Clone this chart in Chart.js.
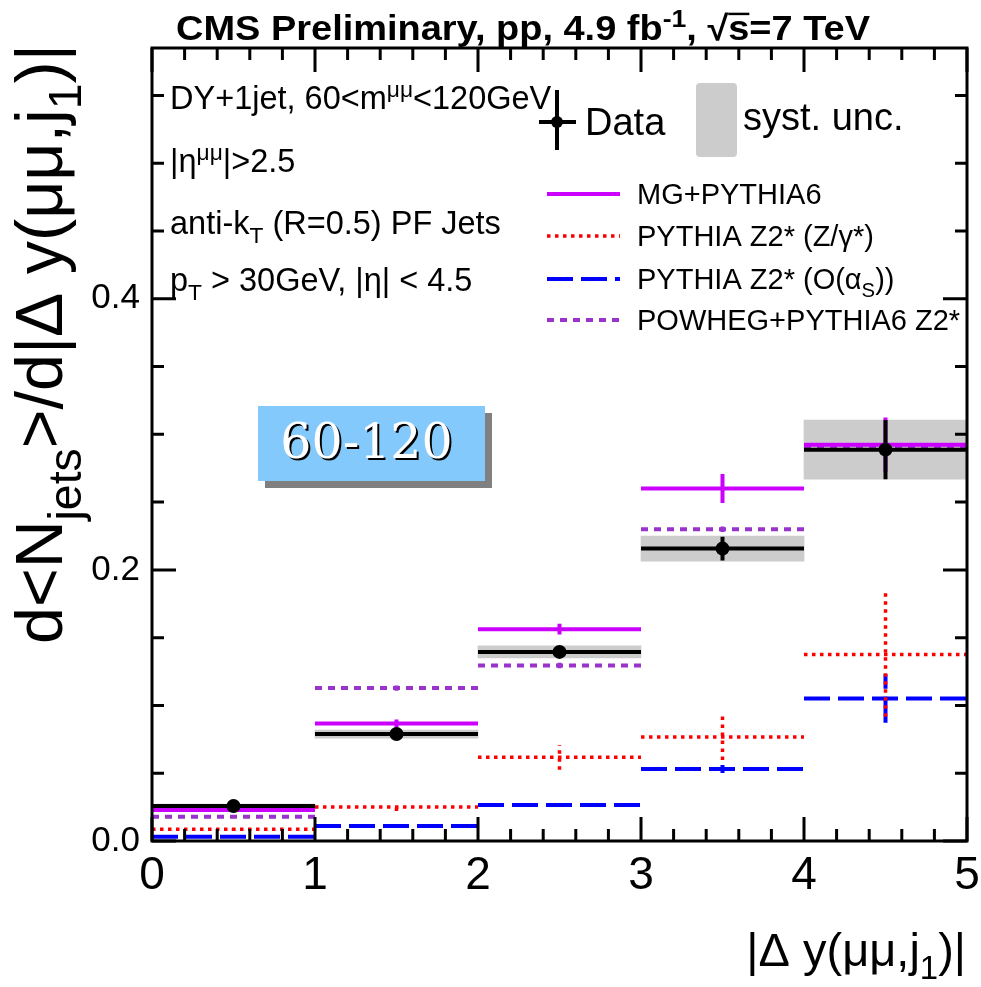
<!DOCTYPE html>
<html>
<head>
<meta charset="utf-8">
<script src="https://cdn.jsdelivr.net/npm/chart.js@4.4.0/dist/chart.umd.min.js"></script>
<style>html,body{margin:0;padding:0;background:#fff}</style>
</head>
<body>
<canvas id="c" width="981" height="987"></canvas>
<script>
// --- data ---
const binEdges = [0, 1, 2, 3, 4, 5];
const dataVals = [0.0258, 0.0789, 0.1395, 0.2157, 0.2887];
const dataStat = [0.0015, 0.003, 0.003, 0.0088, 0.0218];
const dataSyst = [0.0015, 0.003, 0.0045, 0.0092, 0.0218];
const mgVals = [0.0228, 0.0867, 0.1563, 0.2600, 0.2924];
const mgErr = [0.001, 0.003, 0.004, 0.0107, 0.020];
const pyZVals = [0.0086, 0.0251, 0.0617, 0.0767, 0.1376];
const pyZErr = [0.001, 0.003, 0.0092, 0.017, 0.046];
const pyAsVals = [0.0032, 0.0111, 0.0265, 0.0531, 0.1052];
const pyAsErr = [0.001, 0.001, 0.001, 0.003, 0.018];
const powVals = [0.0179, 0.1128, 0.1295, 0.2300, 0.2911];
const powErr = [0.001, 0.002, 0.002, 0.002, 0.002];
const xTicks = [0, 1, 2, 3, 4, 5];
const yTicks = [0.0, 0.2, 0.4];

const FONT = "'Liberation Sans', Arial, sans-serif";

// horizontal bin segments, broken between bins
function steps(vals) {
    const pts = [];
    vals.forEach((v, i) => {
        pts.push({ x: binEdges[i], y: v }, { x: binEdges[i + 1], y: v }, { x: binEdges[i + 1], y: null });
    });
    return pts;
}
// vertical error bars at bin centres
function errBars(vals, errs) {
    const pts = [];
    vals.forEach((v, i) => {
        const c = (binEdges[i] + binEdges[i + 1]) / 2;
        pts.push({ x: c, y: v - errs[i] }, { x: c, y: v + errs[i] }, { x: c, y: null });
    });
    return pts;
}
const centres = dataVals.map((v, i) => (binEdges[i] + binEdges[i + 1]) / 2);

function lineSet(data, color, width, dash, order) {
    return { type: 'line', data: data, borderColor: color, borderWidth: width, borderDash: dash,
        pointRadius: 0, spanGaps: false, fill: false, tension: 0, order: order, borderCapStyle: 'butt' };
}

const styles = {
    mg: ['#cc00ff', 4, []],
    pyZ: ['#ff0000', 3.5, [3.5, 4.5]],
    pyAs: ['#0000ff', 4, [26, 8]],
    pow: ['#9933cc', 4, [7, 6]],
    data: ['#000000', 4, []]
};

const datasets = [
    { type: 'bar', data: centres.map((c, i) => ({ x: c, y: [dataVals[i] - dataSyst[i], dataVals[i] + dataSyst[i]] })),
      backgroundColor: '#cccccc', borderWidth: 0, barPercentage: 1, categoryPercentage: 1, grouped: false, order: 20 },
    lineSet(steps(pyAsVals), ...styles.pyAs, 9),
    lineSet(errBars(pyAsVals, pyAsErr), ...styles.pyAs, 9),
    lineSet(steps(pyZVals), ...styles.pyZ, 8),
    lineSet(errBars(pyZVals, pyZErr), ...styles.pyZ, 8),
    lineSet(steps(powVals), ...styles.pow, 7),
    lineSet(errBars(powVals, powErr), ...styles.pow, 7),
    lineSet(steps(mgVals), ...styles.mg, 6),
    lineSet(errBars(mgVals, mgErr), ...styles.mg, 6),
    lineSet(steps(dataVals), ...styles.data, 2),
    lineSet(errBars(dataVals, dataStat), ...styles.data, 2),
    { type: 'line', data: centres.map((c, i) => ({ x: c, y: dataVals[i] })), showLine: false,
      pointRadius: 7, pointBackgroundColor: '#000', pointBorderWidth: 0, order: 1 }
];

// draw text with sub/superscripts: parts = [[text, kind]], kind 0 normal, 1 sub, 2 sup, 3 overline
function richWidth(ctx, parts, size, weight) {
    let w = 0;
    parts.forEach(([t, k]) => {
        const s = (k === 1 || k === 2) ? size * 0.7 : size;
        ctx.font = `${weight || ''} ${s}px ${FONT}`;
        w += ctx.measureText(t).width;
    });
    return w;
}
function drawRich(ctx, parts, x, y, size, weight) {
    let cx = x;
    parts.forEach(([t, k]) => {
        const s = (k === 1 || k === 2) ? size * 0.7 : size;
        ctx.font = `${weight || ''} ${s}px ${FONT}`;
        let dy = 0;
        if (k === 1) dy = size * 0.28;
        if (k === 2) dy = -size * 0.38;
        ctx.fillText(t, cx, y + dy);
        const w = ctx.measureText(t).width;
        if (k === 3) {
            ctx.fillRect(cx, y - size * 0.78, w, size * 0.07);
        }
        cx += w;
    });
}

const framePlugin = {
    id: 'frame',
    afterDatasetsDraw(chart) {
        const ctx = chart.ctx, a = chart.chartArea;
        const xs = chart.scales.x, ys = chart.scales.y;
        ctx.save();
        ctx.strokeStyle = '#000';
        ctx.lineWidth = 3;
        ctx.strokeRect(a.left, a.top, a.right - a.left, a.bottom - a.top);
        ctx.beginPath();
        for (let i = 0; i <= 25; i++) {
            const v = i * 0.2;
            const px = xs.getPixelForValue(v);
            const len = (i % 5 === 0) ? 24 : 12;
            ctx.moveTo(px, a.bottom); ctx.lineTo(px, a.bottom - len);
            ctx.moveTo(px, a.top); ctx.lineTo(px, a.top + len);
        }
        for (let i = 0; i * 0.05 <= ys.max + 1e-9; i++) {
            const py = ys.getPixelForValue(i * 0.05);
            const len = (i % 4 === 0) ? 24 : 12;
            ctx.moveTo(a.left, py); ctx.lineTo(a.left + len, py);
            ctx.moveTo(a.right, py); ctx.lineTo(a.right - len, py);
        }
        ctx.stroke();
        ctx.restore();
    },
    afterDraw(chart) {
        const ctx = chart.ctx;
        ctx.save();
        ctx.fillStyle = '#000';
        ctx.textAlign = 'left';
        ctx.textBaseline = 'alphabetic';

        // title, condensed to the width in the reference
        const title = [['CMS Preliminary, pp, 4.9 fb', 0], ['-1', 2], [', \u221A', 0], ['s', 3], ['=7 TeV', 0]];
        const tw = richWidth(ctx, title, 35, 'bold');
        ctx.save();
        ctx.translate(176, 40);
        ctx.scale(694 / tw, 1);
        drawRich(ctx, title, 0, 0, 35, 'bold');
        ctx.restore();

        // y axis title, rotated, ending at the top of the frame
        const yt = [['d<N', 0], ['jets', 1], ['>/d|\u0394 y(\u03BC\u03BC,j', 0], ['1', 1], [')|', 0]];
        const ytw = richWidth(ctx, yt, 100);
        const ysz = 100 * 600 / ytw;
        ctx.save();
        ctx.translate(62, 44);
        ctx.rotate(-Math.PI / 2);
        drawRich(ctx, yt, -600, 0, ysz);
        ctx.restore();

        // x axis title, right aligned
        const xt = [['|\u0394 y(\u03BC\u03BC,j', 0], ['1', 1], [')|', 0]];
        const xtw = richWidth(ctx, xt, 47);
        drawRich(ctx, xt, 966 - xtw, 966, 47);

        // selection text
        drawRich(ctx, [['DY+1jet, 60<m', 0], ['\u03BC\u03BC', 2], ['<120GeV', 0]], 170, 109, 32.5);
        drawRich(ctx, [['|\u03B7', 0], ['\u03BC\u03BC', 2], ['|>2.5', 0]], 170, 172, 32.5);
        drawRich(ctx, [['anti-k', 0], ['T', 1], [' (R=0.5) PF Jets', 0]], 170, 234, 32.5);
        drawRich(ctx, [['p', 0], ['T', 1], [' > 30GeV, |\u03B7| < 4.5', 0]], 170, 291, 32.5);

        // legend: data and syst
        ctx.strokeStyle = '#000';
        ctx.lineWidth = 4;
        ctx.beginPath();
        ctx.moveTo(557, 90); ctx.lineTo(557, 150);
        ctx.moveTo(539, 122); ctx.lineTo(576, 122);
        ctx.stroke();
        ctx.beginPath(); ctx.arc(557, 122, 6, 0, Math.PI * 2); ctx.fill();
        drawRich(ctx, [['Data', 0]], 585, 135, 38);
        ctx.fillStyle = '#cccccc';
        ctx.beginPath();
        ctx.roundRect(696, 83, 41, 74, 4);
        ctx.fill();
        ctx.fillStyle = '#000';
        drawRich(ctx, [['syst. unc.', 0]], 743, 130, 38);

        const legendRows = [
            [styles.mg, 194, [['MG+PYTHIA6', 0]]],
            [styles.pyZ, 236, [['PYTHIA Z2* (Z/\u03B3*)', 0]]],
            [styles.pyAs, 279, [['PYTHIA Z2* (O(\u03B1', 0], ['S', 1], ['))', 0]]],
            [styles.pow, 320, [['POWHEG+PYTHIA6 Z2*', 0]]]
        ];
        legendRows.forEach(([st, y, txt]) => {
            ctx.strokeStyle = st[0];
            ctx.lineWidth = st[1];
            ctx.setLineDash(st[2]);
            ctx.beginPath(); ctx.moveTo(547, y); ctx.lineTo(620, y); ctx.stroke();
            ctx.setLineDash([]);
            ctx.fillStyle = '#000';
            drawRich(ctx, txt, 637, y + 10, 29);
        });

        // "60-120" box with shadow
        ctx.fillStyle = '#808080';
        ctx.fillRect(265, 413, 227, 75);
        ctx.fillStyle = '#84c9fb';
        ctx.fillRect(258, 406, 227, 75);
        ctx.font = "49px 'DejaVu Serif', serif";
        ctx.textAlign = 'center';
        ctx.fillStyle = '#000';
        ctx.fillText('60-120', 368.5, 459.5);
        ctx.fillStyle = '#fff';
        ctx.fillText('60-120', 366.5, 457.5);
        ctx.restore();
    }
};

function noPad(s) {
    s.paddingLeft = 0; s.paddingRight = 0; s.paddingTop = 0; s.paddingBottom = 0;
}

new Chart(document.getElementById('c'), {
    type: 'line',
    data: { datasets: datasets },
    options: {
        responsive: false,
        animation: false,
        devicePixelRatio: 1,
        layout: { padding: { top: 48, right: 14, left: 0, bottom: 0 } },
        plugins: { legend: { display: false }, tooltip: { enabled: false } },
        scales: {
            x: {
                type: 'linear', min: 0, max: 5, offset: false,
                grid: { display: false, drawTicks: false }, border: { display: false },
                afterBuildTicks: s => { s.ticks = xTicks.map(v => ({ value: v })); },
                ticks: { color: '#000', font: { size: 46, family: FONT }, padding: 8, maxRotation: 0, autoSkip: false,
                    callback: v => String(v) },
                afterFit: s => { s.height = 146; noPad(s); }
            },
            y: {
                min: 0, max: 0.585,
                grid: { display: false, drawTicks: false }, border: { display: false },
                afterBuildTicks: s => { s.ticks = yTicks.map(v => ({ value: v })); },
                ticks: { color: '#000', font: { size: 35, family: FONT }, padding: 12,
                    callback: v => v.toFixed(1) },
                afterFit: s => { s.width = 152; noPad(s); }
            }
        }
    },
    plugins: [framePlugin]
});
</script>
</body>
</html>
